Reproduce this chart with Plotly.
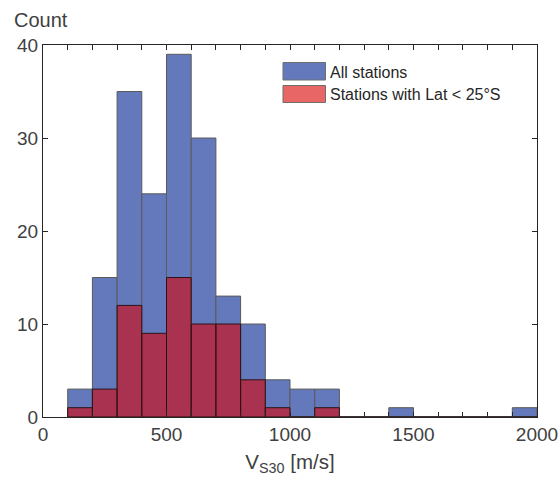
import plotly.graph_objects as go

bin_left = [100, 200, 300, 400, 500, 600, 700, 800, 900, 1000, 1100, 1200, 1300, 1400, 1500, 1600, 1700, 1800, 1900]
all_counts = [3, 15, 35, 24, 39, 30, 13, 10, 4, 3, 3, 0, 0, 1, 0, 0, 0, 0, 1]
south_counts = [1, 3, 12, 9, 15, 10, 10, 4, 1, 0, 1, 0, 0, 0, 0, 0, 0, 0, 0]
series_names = ["All stations", "Stations with Lat < 25°S"]
bin_width = 100

centers = [b + bin_width / 2 for b in bin_left]

blue = "rgb(100,120,188)"
red_alpha = "rgba(217,0,0,0.58)"
red_legend = "rgb(232,102,102)"

fig = go.Figure()
fig.add_trace(go.Bar(
    x=centers, y=all_counts, width=bin_width,
    name=series_names[0],
    marker=dict(color=blue, line=dict(color="rgb(90,90,90)", width=1)),
))
fig.add_trace(go.Bar(
    x=centers, y=south_counts, width=bin_width,
    name=series_names[1],
    marker=dict(color=red_alpha, line=dict(color="rgb(40,20,25)", width=1)),
))

# plot area: px 43..537 (x), 45..417 (y)
def px2x(px):
    return (px - 43) / 494.0

def py2y(py):
    return (417 - py) / 372.0

axis_col = "#262626"
shapes = [
    dict(type="rect", xref="paper", yref="paper",
         x0=px2x(283), x1=px2x(325.5), y0=py2y(80), y1=py2y(62.5),
         fillcolor=blue, line=dict(color="rgb(110,110,110)", width=1)),
    dict(type="rect", xref="paper", yref="paper",
         x0=px2x(283), x1=px2x(325.5), y0=py2y(102.5), y1=py2y(85.5),
         fillcolor=red_legend, line=dict(color="rgb(110,110,110)", width=1)),
]
annotations = [
    dict(text=series_names[0], x=px2x(328), y=py2y(72), xref="paper", yref="paper",
         xanchor="left", yanchor="middle", showarrow=False,
         font=dict(size=16, color="#262626")),
    dict(text=series_names[1], x=px2x(328), y=py2y(94.5), xref="paper", yref="paper",
         xanchor="left", yanchor="middle", showarrow=False,
         font=dict(size=16, color="#262626")),
    dict(text="Count", x=px2x(12), y=py2y(20), xref="paper", yref="paper",
         xanchor="left", yanchor="middle", showarrow=False,
         font=dict(size=20, color="#404040")),
]

fig.update_layout(
    barmode="overlay",
    width=560, height=481,
    margin=dict(l=43, r=23, t=45, b=64, autoexpand=False),
    plot_bgcolor="white", paper_bgcolor="white",
    font=dict(family="Liberation Sans, Arial, sans-serif", color="#404040", size=19),
    showlegend=False,
    shapes=shapes,
    annotations=annotations,
    xaxis=dict(range=[0, 2000], tickvals=[0, 500, 1000, 1500, 2000], automargin=False,
               showgrid=False, zeroline=False, showline=True, linecolor=axis_col, linewidth=1,
               mirror="allticks", ticks="inside", ticklen=5, tickcolor=axis_col,
               minor=dict(dtick=100, tick0=0, ticks="inside", ticklen=5, tickcolor=axis_col),
               title=dict(text="V<sub>S30</sub> [m/s]", font=dict(size=20.5, color="#404040"), standoff=10)),
    yaxis=dict(range=[0, 40], tickvals=[0, 10, 20, 30, 40], automargin=False,
               showgrid=False, zeroline=False, showline=True, linecolor=axis_col, linewidth=1,
               mirror="allticks", ticks="inside", ticklen=5, tickcolor=axis_col),
)

fig.write_html("out.html")
